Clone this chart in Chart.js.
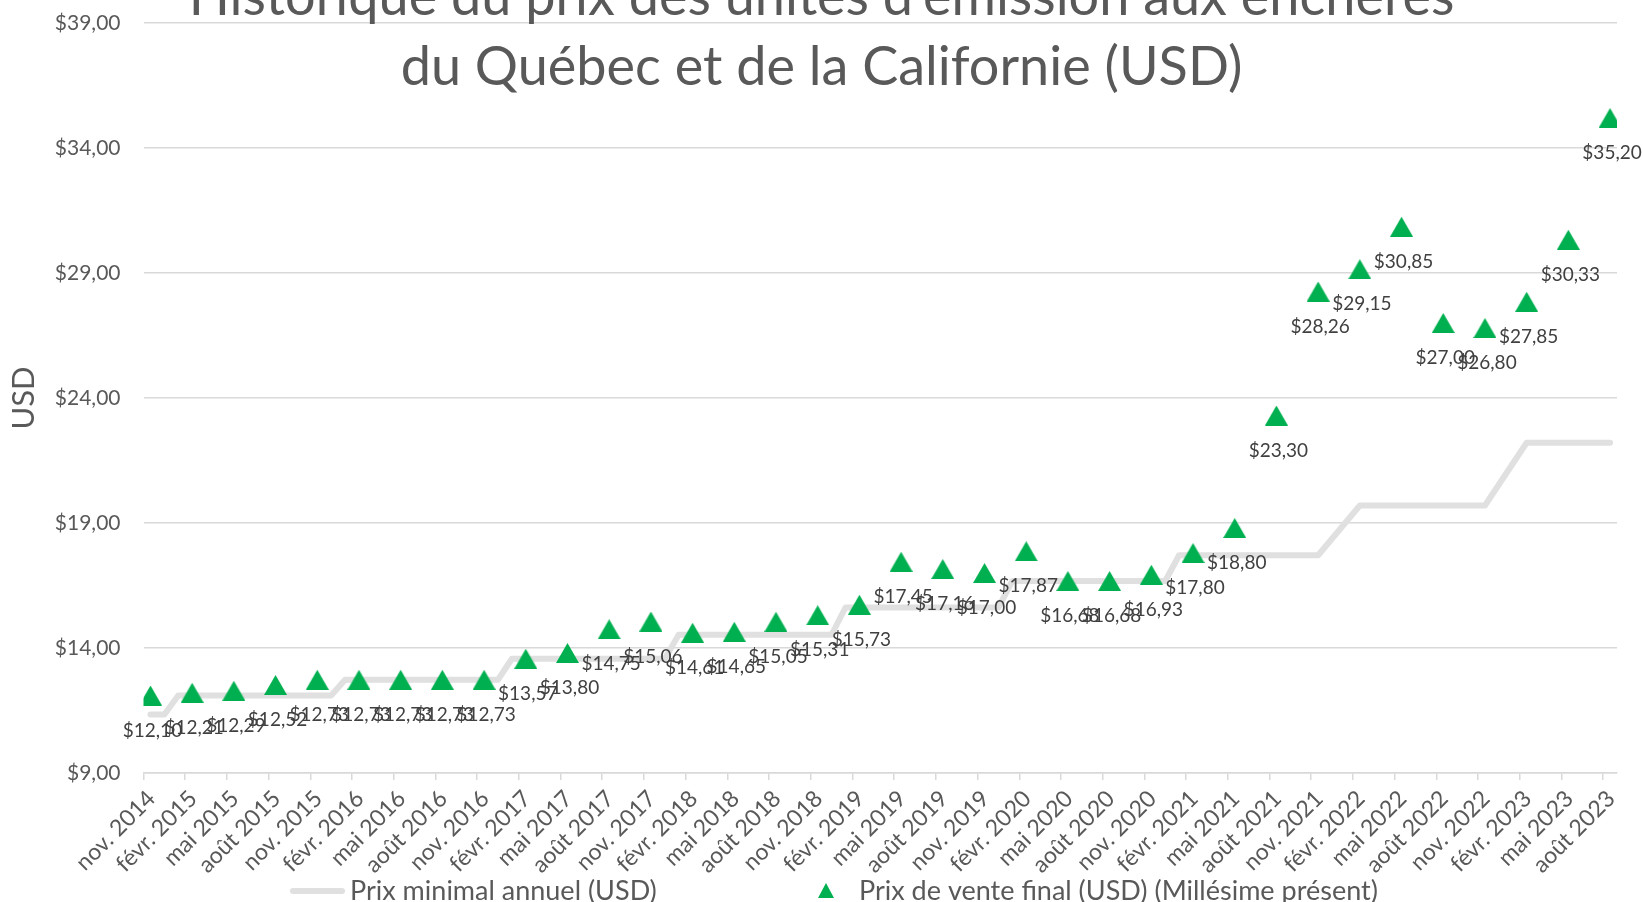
<!DOCTYPE html>
<html lang="fr">
<head>
<meta charset="UTF-8">
<title>Historique du prix des unités d'émission</title>
<style>
  html, body { margin: 0; padding: 0; background: #fff; overflow: hidden; }
  #cadre { width: 1643px; height: 902px; position: relative; }
</style>
</head>
<body>
<div id="cadre"><canvas id="graphique"></canvas></div>
<script src="https://cdn.jsdelivr.net/npm/chart.js"></script>
<script>
  // étiquettes de l'axe des x (un trimestre par graduation)
  const etiquettesTrimestres = [
    'nov. 2014', 'févr. 2015', 'mai 2015', 'août 2015', 'nov. 2015',
    'févr. 2016', 'mai 2016', 'août 2016', 'nov. 2016', 'févr. 2017',
    'mai 2017', 'août 2017', 'nov. 2017', 'févr. 2018', 'mai 2018',
    'août 2018', 'nov. 2018', 'févr. 2019', 'mai 2019', 'août 2019',
    'nov. 2019', 'févr. 2020', 'mai 2020', 'août 2020', 'nov. 2020',
    'févr. 2021', 'mai 2021', 'août 2021', 'nov. 2021', 'févr. 2022',
    'mai 2022', 'août 2022', 'nov. 2022', 'févr. 2023', 'mai 2023',
    'août 2023'
  ];

  // mois de chaque vente aux enchères
  const moisEncheres = [
    '2014-11', '2015-02', '2015-05', '2015-08', '2015-11',
    '2016-02', '2016-05', '2016-08', '2016-11', '2017-02',
    '2017-05', '2017-08', '2017-11', '2018-02', '2018-05',
    '2018-08', '2018-11', '2019-02', '2019-05', '2019-08',
    '2019-11', '2020-02', '2020-05', '2020-08', '2020-11',
    '2021-02', '2021-05', '2021-08', '2021-11', '2022-02',
    '2022-05', '2022-08', '2022-11', '2023-02', '2023-05',
    '2023-08'
  ];
  const prixVenteFinal = [
    12.10, 12.21, 12.29, 12.52, 12.73,
    12.73, 12.73, 12.73, 12.73, 13.57,
    13.80, 14.75, 15.06, 14.61, 14.65,
    15.05, 15.31, 15.73, 17.45, 17.16,
    17.00, 17.87, 16.68, 16.68, 16.93,
    17.80, 18.80, 23.30, 28.26, 29.15,
    30.85, 27.00, 26.80, 27.85, 30.33,
    35.20
  ];

  // prix minimal annuel : premier et dernier mois de chaque palier
  const moisPrixMinimal = [
    '2014-11', '2014-12', '2015-01', '2015-12', '2016-01', '2016-12',
    '2017-01', '2017-12', '2018-01', '2018-12', '2019-01', '2019-12',
    '2020-01', '2020-12', '2021-01', '2021-11', '2022-02', '2022-11',
    '2023-02', '2023-08'
  ];
  const prixMinimal = [
    11.34, 11.34, 12.10, 12.10, 12.73, 12.73,
    13.57, 13.57, 14.53, 14.53, 15.62, 15.62,
    16.68, 16.68, 17.71, 17.71, 19.70, 19.70,
    22.21, 22.21
  ];

  const debutAxe = '2014-11';
  const finAxe = '2023-09';
  const yMin = 9, yMax = 39, yPas = 5;

  const police = 'Lato, "Open Sans", sans-serif';
  const grisTexte = '#595959';
  const grisGrille = '#D9D9D9';
  const grisLigne = '#E0E0E0';
  const vert = '#00B050';

  function positionMois(m) {
    const [a, mo] = m.split('-').map(Number);
    const [a0, m0] = debutAxe.split('-').map(Number);
    return (a - a0) * 12 + (mo - m0);
  }

  function enDollars(v) {
    return '$' + v.toFixed(2).replace('.', ',');
  }

  function triangle(w, h, couleur) {
    const c = document.createElement('canvas');
    c.width = w;
    c.height = h;
    const g = c.getContext('2d');
    g.fillStyle = couleur;
    g.beginPath();
    g.moveTo(w / 2, 0);
    g.lineTo(w, h);
    g.lineTo(0, h);
    g.closePath();
    g.fill();
    return c;
  }

  const marqueTriangle = triangle(23, 20, vert);
  const marqueLegende = triangle(16, 15, vert);

  const pointsVente = moisEncheres.map((m, i) => ({ x: positionMois(m) + 0.5, y: prixVenteFinal[i] }));
  const pointsMinimal = moisPrixMinimal.map((m, i) => ({ x: positionMois(m) + 0.5, y: prixMinimal[i] }));

  const titre = [
    "Historique du prix des unités d'émission aux enchères",
    'du Québec et de la Californie (USD)'
  ];

  // étiquettes de données sous les triangles
  const etiquettesDonnees = {
    id: 'etiquettesDonnees',
    afterDatasetsDraw(chart) {
      const ctx = chart.ctx;
      const meta = chart.getDatasetMeta(0);
      ctx.save();
      ctx.font = '19px ' + police;
      ctx.fillStyle = '#404040';
      ctx.textAlign = 'center';
      ctx.textBaseline = 'middle';
      meta.data.forEach((pt, i) => {
        ctx.fillText(enDollars(prixVenteFinal[i]), pt.x + 2, pt.y + 35);
      });
      ctx.restore();
    }
  };

  // titre et légende dessinés à la main (le titre chevauche la zone de tracé)
  const titreEtLegende = {
    id: 'titreEtLegende',
    afterDraw(chart) {
      const ctx = chart.ctx;
      const cx = chart.width / 2;
      ctx.save();
      ctx.fillStyle = grisTexte;
      ctx.textAlign = 'center';
      ctx.textBaseline = 'alphabetic';
      ctx.font = '54px ' + police;
      ctx.fillText(titre[0], cx, 15);
      ctx.fillText(titre[1], cx, 85);

      const yl = 891;
      ctx.strokeStyle = grisLigne;
      ctx.lineWidth = 6;
      ctx.lineCap = 'round';
      ctx.beginPath();
      ctx.moveTo(293, yl);
      ctx.lineTo(342, yl);
      ctx.stroke();

      ctx.font = '27px ' + police;
      ctx.textAlign = 'left';
      ctx.textBaseline = 'middle';
      ctx.fillText(chart.data.datasets[1].label, 350, yl);
      ctx.drawImage(marqueLegende, 826 - 8, yl - 8);
      ctx.fillText(chart.data.datasets[0].label, 859, yl);
      ctx.restore();
    }
  };

  new Chart(document.getElementById('graphique'), {
    type: 'line',
    data: {
      datasets: [
        {
          label: 'Prix de vente final (USD) (Millésime présent)',
          data: pointsVente,
          showLine: false,
          pointStyle: marqueTriangle,
          pointRadius: 10,
          pointHoverRadius: 10,
          order: 0
        },
        {
          label: 'Prix minimal annuel (USD)',
          data: pointsMinimal,
          borderColor: grisLigne,
          borderWidth: 6,
          borderCapStyle: 'round',
          borderJoinStyle: 'round',
          pointRadius: 0,
          tension: 0,
          order: 1
        }
      ]
    },
    options: {
      responsive: true,
      maintainAspectRatio: false,
      animation: false,
      layout: { padding: { top: 23, right: 26, bottom: 0, left: 0 } },
      plugins: {
        legend: { display: false },
        title: { display: false },
        tooltip: { enabled: false }
      },
      scales: {
        x: {
          type: 'linear',
          min: 0,
          max: positionMois(finAxe),
          afterFit(scale) {
            scale.height = 129;
            scale.paddingTop = 0;
            scale.paddingBottom = 0;
          },
          grid: {
            drawOnChartArea: false,
            drawTicks: true,
            tickLength: 7,
            color: grisGrille,
            lineWidth: 1.5
          },
          border: { color: grisGrille, width: 1.5 },
          ticks: {
            stepSize: 3,
            includeBounds: false,
            autoSkip: false,
            minRotation: 45,
            maxRotation: 45,
            padding: 5,
            labelOffset: 8,
            color: grisTexte,
            font: { family: police, size: 23 },
            callback: (v) => etiquettesTrimestres[Math.round(v / 3)]
          }
        },
        y: {
          min: yMin,
          max: yMax,
          afterFit(scale) {
            scale.width = 143.5;
            scale.paddingTop = 0;
            scale.paddingBottom = 0;
          },
          grid: { color: grisGrille, lineWidth: 1.5, drawTicks: false },
          border: { display: false },
          ticks: {
            stepSize: yPas,
            padding: 23,
            color: grisTexte,
            font: { family: police, size: 21 },
            callback: (v) => enDollars(v)
          },
          title: {
            display: true,
            text: 'USD',
            color: grisTexte,
            font: { family: police, size: 31 },
            padding: { top: 5, bottom: 0 }
          }
        }
      }
    },
    plugins: [etiquettesDonnees, titreEtLegende]
  });
</script>
</body>
</html>
